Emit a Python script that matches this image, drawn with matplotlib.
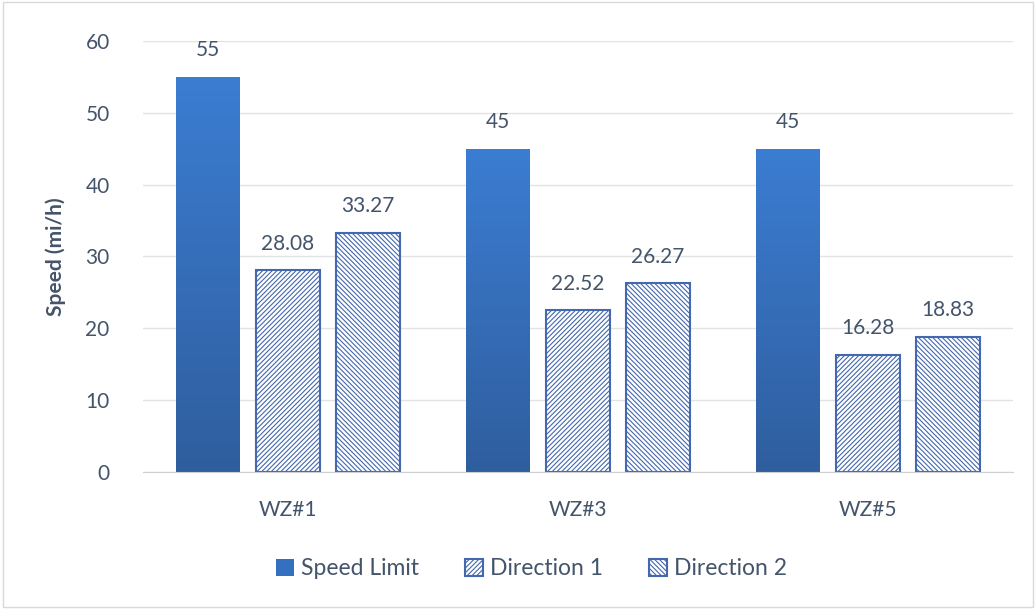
import numpy as np
import matplotlib.pyplot as plt
import matplotlib as mpl

plt.rcParams['font.family'] = ['Lato', 'DejaVu Sans']
mpl.rcParams['hatch.linewidth'] = 0.8

# Datos del gráfico
zones = ['WZ#1', 'WZ#3', 'WZ#5']
speed_limit = [55, 45, 45]
direction_1 = [28.08, 22.52, 16.28]
direction_2 = [33.27, 26.27, 18.83]

text_color = '#44546A'
edge_blue = '#4468AE'

fig = plt.figure(figsize=(10.36, 6.09), dpi=100)
ax = fig.add_axes([0.138, 0.225, 0.84, 0.708])

x = np.arange(len(zones))
step = 0.276
width = 0.22

b0 = ax.bar(x - step, speed_limit, width, color='#3570C0', label='Speed Limit', zorder=3)
# degradado vertical dentro de las barras sólidas
grad = np.linspace(0, 1, 256).reshape(-1, 1)
cmap = mpl.colors.LinearSegmentedColormap.from_list('g', ['#2F5E9E', '#3B7DD2'])
for rect in b0:
    xs, ys = rect.get_x(), rect.get_y()
    im = ax.imshow(grad, cmap=cmap, aspect='auto', origin='lower',
                   extent=[xs, xs + rect.get_width(), ys, ys + rect.get_height()], zorder=3)
    im.set_clip_path(rect)

ax.bar(x, direction_1, width, color='white', edgecolor=edge_blue, hatch='///////',
       linewidth=1.5, label='Direction 1', zorder=3)
ax.bar(x + step, direction_2, width, color='white', edgecolor=edge_blue, hatch='\\\\\\\\\\\\\\',
       linewidth=1.5, label='Direction 2', zorder=3)

# etiquetas de valores
for xi, v in zip(x - step, speed_limit):
    ax.text(xi, v + 2.3, '{:g}'.format(v), ha='center', va='bottom', fontsize=15, color=text_color)
for xi, v in zip(x, direction_1):
    ax.text(xi, v + 2.3, '{:.2f}'.format(v), ha='center', va='bottom', fontsize=15, color=text_color)
for xi, v in zip(x + step, direction_2):
    ax.text(xi, v + 2.3, '{:.2f}'.format(v), ha='center', va='bottom', fontsize=15, color=text_color)

ax.set_xlim(-0.5, 2.5)
ax.set_ylim(0, 60)
ax.set_yticks(range(0, 61, 10))
ax.set_xticks(x)
ax.set_xticklabels(zones)
ax.tick_params(axis='both', length=0, labelsize=15, labelcolor=text_color)
ax.tick_params(axis='y', pad=24)
ax.tick_params(axis='x', pad=20)
ax.grid(axis='y', color='#E3E3E3', linewidth=1, zorder=0)
for s in ['top', 'right', 'left']:
    ax.spines[s].set_visible(False)
ax.spines['bottom'].set_color('#D0D0D0')
ax.spines['bottom'].set_zorder(4)

ax.set_ylabel('Speed (mi/h)', fontsize=15, color=text_color, fontweight='bold', labelpad=14)

fig.legend(loc='lower center', bbox_to_anchor=(0.513, 0.015), ncol=3, frameon=False,
           fontsize=16.5, handlelength=0.8, handleheight=0.8, handletextpad=0.3,
           columnspacing=2.0, labelcolor=text_color)

# marco exterior
fig.patches.append(plt.Rectangle((0.003, 0.003), 0.994, 0.994, transform=fig.transFigure,
                                 fill=False, edgecolor='#D9D9D9', linewidth=1))

fig.savefig('out.png', dpi=100)
